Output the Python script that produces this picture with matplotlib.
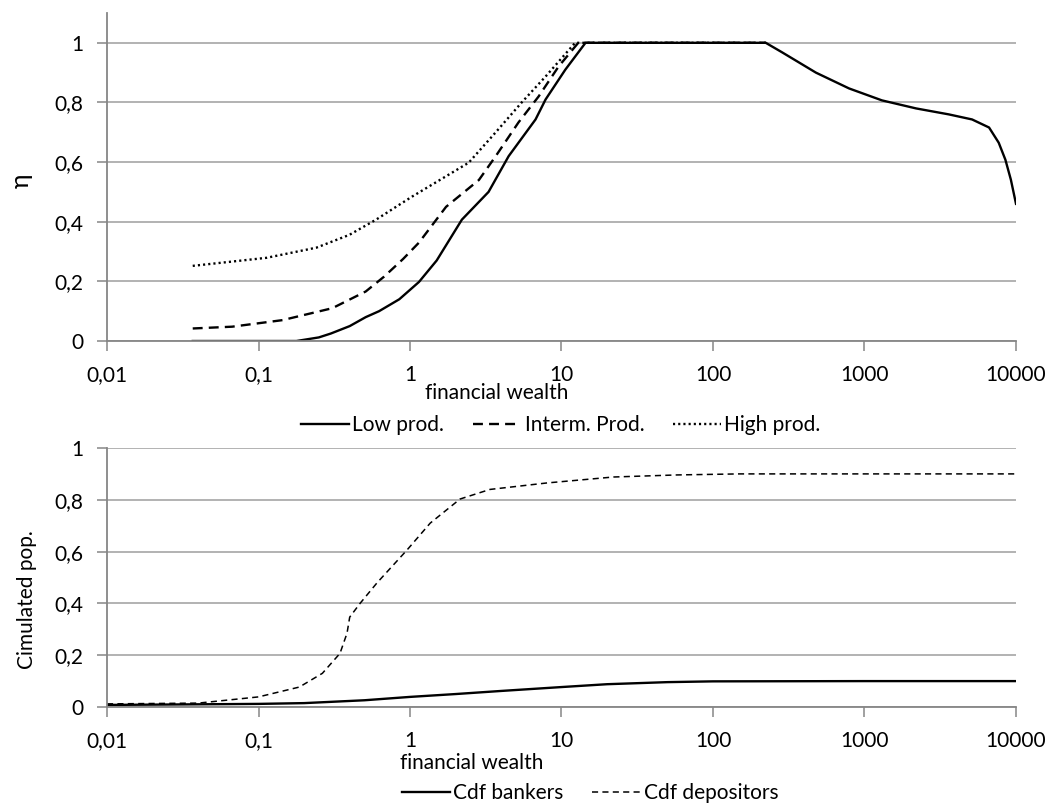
import matplotlib.pyplot as plt
from matplotlib.ticker import FixedLocator, FuncFormatter

# --- Dades panell superior (eta vs riquesa financera) ---
low_x = [0.0368, 0.1, 0.178, 0.25, 0.3, 0.4, 0.51, 0.625, 0.85, 1.146, 1.5, 2.2, 3.3, 4.48,
         6.74, 7.85, 10.6, 14.4, 100, 223, 286, 478, 791, 1303, 2190, 3600, 5130, 6640,
         7690, 8510, 9250, 10000]
low_y = [0.0, 0.0, 0.0, 0.012, 0.025, 0.05, 0.08, 0.10, 0.14, 0.198, 0.27, 0.407, 0.50, 0.62,
         0.743, 0.81, 0.91, 1.0, 1.0, 1.0, 0.968, 0.90, 0.847, 0.807, 0.78, 0.76, 0.743, 0.716,
         0.665, 0.608, 0.541, 0.46]

int_x = [0.0368, 0.067, 0.144, 0.307, 0.51, 0.675, 0.9, 1.146, 1.73, 2.85, 3.68, 5.2, 7.06,
         9.55, 12.9, 100, 223]
int_y = [0.042, 0.048, 0.07, 0.11, 0.166, 0.216, 0.275, 0.33, 0.45, 0.54, 0.62, 0.733, 0.82,
         0.92, 1.0, 1.0, 1.0]

high_x = [0.0368, 0.113, 0.241, 0.398, 0.597, 0.85, 1.03, 2.44, 3.68, 5.46, 7.85, 12.3, 100, 223]
high_y = [0.252, 0.279, 0.313, 0.356, 0.407, 0.457, 0.484, 0.598, 0.70, 0.80, 0.887, 1.0, 1.0, 1.0]

# --- Dades panell inferior (cdf) ---
bank_x = [0.01, 0.1, 0.2, 0.5, 1, 2, 4, 10, 20, 50, 100, 1000, 10000]
bank_y = [0.008, 0.012, 0.015, 0.026, 0.039, 0.05, 0.062, 0.077, 0.088, 0.096, 0.099, 0.1, 0.1]

dep_x = [0.01, 0.04, 0.1, 0.186, 0.264, 0.345, 0.384, 0.40, 0.468, 0.605, 0.955, 1.36, 2.14,
         3.37, 8, 22, 58, 150, 1000, 10000]
dep_y = [0.012, 0.015, 0.039, 0.077, 0.13, 0.207, 0.285, 0.347, 0.40, 0.479, 0.606, 0.71, 0.803,
         0.84, 0.865, 0.888, 0.896, 0.9, 0.9, 0.9]

x_ticks = [0.01, 0.1, 1, 10, 100, 1000, 10000]
x_labels = ['0,01', '0,1', '1', '10', '100', '1000', '10000']
y_ticks = [0, 0.2, 0.4, 0.6, 0.8, 1]

plt.rcParams['font.family'] = ['Lato', 'DejaVu Sans']
FS = 15
GRID = '#a6a6a6'
SPINE = '#868686'

fig = plt.figure(figsize=(10.52, 8.06), dpi=100)
W, H = 1052, 806
ax1 = fig.add_axes([107 / W, 1 - 341 / H, (1016 - 107) / W, (341 - 13) / H])
ax2 = fig.add_axes([107 / W, 1 - 707 / H, (1016 - 107) / W, (707 - 448) / H])


def yfmt(v, pos):
    s = f'{v:.1f}'.rstrip('0').rstrip('.')
    return s.replace('.', ',')


for ax in (ax1, ax2):
    ax.set_xscale('log')
    ax.set_xlim(0.01, 10000)
    ax.xaxis.set_major_locator(FixedLocator(x_ticks))
    ax.xaxis.set_minor_locator(FixedLocator([]))
    ax.set_xticklabels(x_labels)
    ax.set_yticks(y_ticks)
    ax.yaxis.set_major_formatter(FuncFormatter(yfmt))
    ax.grid(True, axis='y', color=GRID, linewidth=1.2)
    ax.set_axisbelow(True)
    for s in ('top', 'right'):
        ax.spines[s].set_visible(False)
    for s in ('left', 'bottom'):
        ax.spines[s].set_color(SPINE)
        ax.spines[s].set_linewidth(1.3)
    ax.tick_params(axis='both', which='major', direction='out', length=7, width=1.1,
                   color=SPINE, labelsize=FS, labelcolor='black')
    ax.tick_params(axis='x', pad=10)
    ax.tick_params(axis='y', pad=10)

ax1.set_ylim(0, 1.1)
ax2.set_ylim(0, 1)

lw = 1.7
ax1.plot(low_x, low_y, color='black', lw=lw, label='Low prod.')
ax1.plot(int_x, int_y, color='black', lw=lw, dashes=(4.2, 2.6), label='Interm. Prod.')
ax1.plot(high_x, high_y, color='black', lw=lw, dashes=(0.9, 1.3), label='High prod.')

ax2.plot(bank_x, bank_y, color='black', lw=lw, label='Cdf bankers')
ax2.plot(dep_x, dep_y, color='black', lw=1.1, dashes=(4, 2.8), label='Cdf depositors')

# Etiquetes d'eixos
fig.text(497 / W, 1 - 393 / H, 'financial wealth', ha='center', va='center', fontsize=FS)
fig.text(472 / W, 1 - 763 / H, 'financial wealth', ha='center', va='center', fontsize=FS)
fig.text(21 / W, 1 - 181 / H, 'η', ha='center', va='center', rotation=90, fontsize=18)
fig.text(27 / W, 1 - 600 / H, 'Cimulated pop.', ha='center', va='center', rotation=90, fontsize=FS)

# Llegendes
leg_kw = dict(loc='center', ncol=3, frameon=False, fontsize=FS, handlelength=2.3,
              handletextpad=0.15, columnspacing=1.4, borderaxespad=0)
fig.legend(*ax1.get_legend_handles_labels(), bbox_to_anchor=(561 / W, 1 - 425 / H), **leg_kw)
fig.legend(*ax2.get_legend_handles_labels(), bbox_to_anchor=(590 / W, 1 - 793 / H), **leg_kw)

fig.savefig('out.png', dpi=100)
